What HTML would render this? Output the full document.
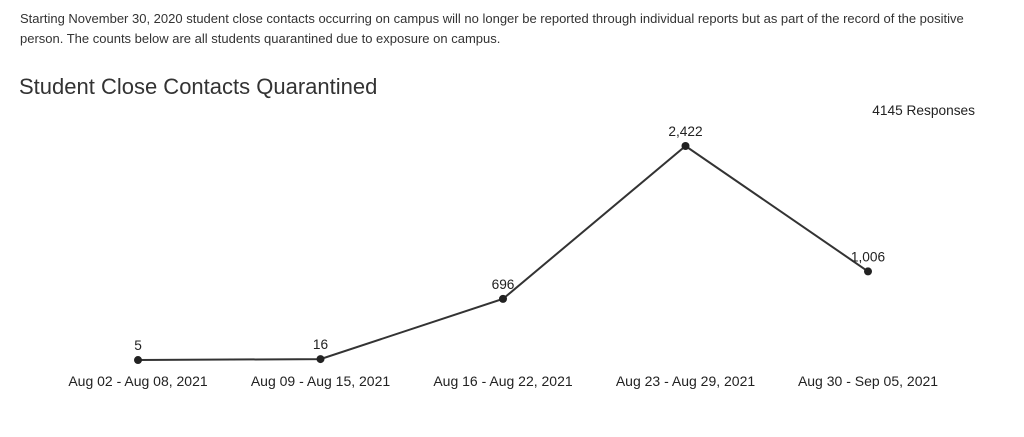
<!DOCTYPE html>
<html><head><meta charset="utf-8"><style>
body{margin:0;width:1024px;height:437px;background:#fff;font-family:"Liberation Sans",Arial,sans-serif;overflow:hidden;position:relative}
#intro{position:absolute;left:20px;top:9px;width:955px;font-size:13px;line-height:20px;color:#333}
#title{position:absolute;left:19px;top:74px;font-size:22px;color:#333}
#resp{position:absolute;right:49px;top:103px;font-size:13.7px;color:#222}
svg{position:absolute;left:0;top:0}
</style></head><body>
<div id="intro">Starting November 30, 2020 student close contacts occurring on campus will no longer be reported through individual reports but as part of the record of the positive person. The counts below are all students quarantined due to exposure on campus.</div>
<div id="title">Student Close Contacts Quarantined</div>
<div id="resp">4145 Responses</div>
<svg id="chart" width="1024" height="437"></svg>
<script>
const categories=["Aug 02 - Aug 08, 2021","Aug 09 - Aug 15, 2021","Aug 16 - Aug 22, 2021","Aug 23 - Aug 29, 2021","Aug 30 - Sep 05, 2021"];
const values=[5,16,696,2422,1006];
const valueLabels=["5","16","696","2,422","1,006"];
const svg=document.getElementById('chart');
const NS='http://www.w3.org/2000/svg';
const xPos=i=>138+i*182.5;
const yPos=v=>360.5-v*(214.5/2422);
function mk(t,a){const e=document.createElementNS(NS,t);for(const k in a)e.setAttribute(k,a[k]);svg.appendChild(e);return e;}
const pts=values.map((v,i)=>xPos(i)+','+yPos(v)).join(' ');
const line=mk('polyline',{points:pts,fill:'none',stroke:'#333','stroke-width':2});


values.forEach((v,i)=>{
 const c=mk('circle',{cx:xPos(i),cy:yPos(v),r:4,fill:'#222'});
 
 
 const t=mk('text',{x:xPos(i),y:yPos(v)-10,'text-anchor':'middle','font-size':13.7,fill:'#222'});
 t.textContent=valueLabels[i];
 
 
 const l=mk('text',{x:xPos(i),y:386,'text-anchor':'middle','font-size':14,fill:'#222'});
 l.textContent=categories[i];
 
 
});
</script>
</body></html>
